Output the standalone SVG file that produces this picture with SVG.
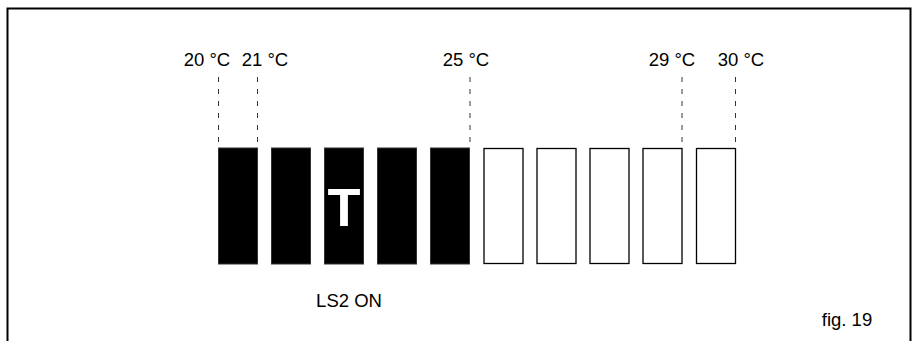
<svg xmlns="http://www.w3.org/2000/svg" width="914" height="341" viewBox="0 0 914 341">
<style>
.t{font-family:"Liberation Sans",Arial,sans-serif;font-size:18.5px;fill:#000;text-anchor:middle}
.on{fill:#000;stroke:#333;stroke-width:1}
.off{fill:#fff;stroke:#000;stroke-width:1.3}
.d{stroke:#333;stroke-width:1;stroke-dasharray:5,7;fill:none}
</style>
<rect x="0" y="0" width="914" height="341" fill="#fff"/>
<rect x="7.5" y="8.5" width="903" height="345" fill="none" stroke="#000" stroke-width="2"/>
<g id="connectors">
<line class="d" x1="218.5" y1="77" x2="218.5" y2="148"/>
<line class="d" x1="257.5" y1="77" x2="257.5" y2="148"/>
<line class="d" x1="470" y1="77" x2="470" y2="148"/>
<line class="d" x1="682" y1="77" x2="682" y2="148"/>
<line class="d" x1="735.5" y1="77" x2="735.5" y2="148"/>
</g>
<g id="labels">
<text class="t" x="207" y="66">20 °C</text>
<text class="t" x="265" y="66">21 °C</text>
<text class="t" x="466" y="66">25 °C</text>
<text class="t" x="672" y="66">29 °C</text>
<text class="t" x="741" y="66">30 °C</text>
</g>
<g id="bar1"><rect class="on" x="218.5" y="148" width="39" height="116"/></g>
<g id="bar2"><rect class="on" x="271.5" y="148" width="39" height="116"/></g>
<g id="bar3"><rect class="on" x="324.5" y="148" width="39" height="116"/>
<text x="344" y="226" font-family="Liberation Sans,Arial,sans-serif" font-weight="bold" font-size="54" fill="#fff" text-anchor="middle">T</text></g>
<g id="bar4"><rect class="on" x="377.5" y="148" width="39" height="116"/></g>
<g id="bar5"><rect class="on" x="430.5" y="148" width="39" height="116"/></g>
<g id="bar6"><rect class="off" x="484" y="148.5" width="39" height="115"/></g>
<g id="bar7"><rect class="off" x="537" y="148.5" width="39" height="115"/></g>
<g id="bar8"><rect class="off" x="590" y="148.5" width="39" height="115"/></g>
<g id="bar9"><rect class="off" x="643" y="148.5" width="39" height="115"/></g>
<g id="bar10"><rect class="off" x="696.5" y="148.5" width="39" height="115"/></g>
<text class="t" x="349" y="306.5">LS2 ON</text>
<text class="t" x="847" y="326" font-size="18px">fig. 19</text>
</svg>
